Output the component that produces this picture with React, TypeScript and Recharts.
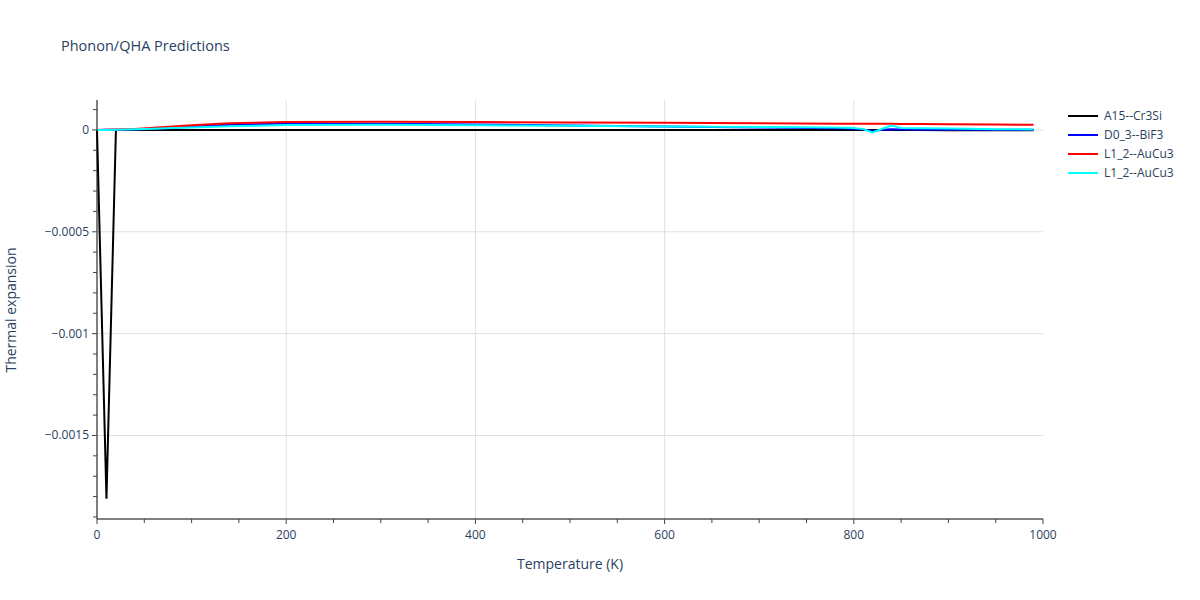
import { LineChart, Line, XAxis, YAxis, CartesianGrid } from "recharts";

const temps = [0, 10, 20, 40, 60, 80, 100, 140, 200, 300, 400, 500, 600, 700, 780, 800, 810, 820, 830, 840, 850, 870, 900, 950, 990];
const a15Cr3Si = [0, -0.00181, 0, 0, 0, 0, 0, 0, 0, 0, 0, 0, 0, 0, 0, 0, 0, 0, 0, 0, 0, 0, -0.000001, -0.000001, -0.000002];
const d03BiF3 = [0, 0.000001, 0.000001, 0.000002, 0.000006, 0.000011, 0.000016, 0.000025, 0.000031, 0.00003, 0.000027, 0.000022, 0.000017, 0.000012, 0.000008, 0.000006, 0.000002, -0.000006, 0.000001, 0.000003, 0.000002, 0.000002, 0.000001, 0.000001, 0.000001];
const l12AuCu3a = [0, 0.000001, 0.000002, 0.000005, 0.000011, 0.000017, 0.000023, 0.000033, 0.000039, 0.00004, 0.000039, 0.000037, 0.000035, 0.000033, 0.000031, 0.000031, 0.00003, 0.00003, 0.00003, 0.00003, 0.000029, 0.000029, 0.000028, 0.000027, 0.000025];
const l12AuCu3b = [0, 0, 0.000001, 0.000003, 0.000006, 0.000009, 0.000012, 0.000018, 0.000024, 0.000026, 0.000023, 0.00002, 0.000017, 0.000014, 0.000012, 0.00001, 0.000004, -0.000012, 0.000006, 0.000022, 0.00001, 0.000008, 0.000007, 0.000004, 0.000002];

const series = [
  { key: "a15", name: "A15--Cr3Si", color: "#000000", values: a15Cr3Si },
  { key: "d03", name: "D0_3--BiF3", color: "#0000ff", values: d03BiF3 },
  { key: "l12a", name: "L1_2--AuCu3", color: "#ff0000", values: l12AuCu3a },
  { key: "l12b", name: "L1_2--AuCu3", color: "#00ffff", values: l12AuCu3b },
];

// every 50 K tick mark, labels only on the 200 K ones
const xTicks = Array.from({ length: 21 }, (_, i) => i * 50);
// every 0.0001 tick mark, labels only on the 0.0005 ones
const yTicks = Array.from({ length: 21 }, (_, i) => Number((0.0001 - i * 0.0001).toFixed(4)));
const xGrid = [200, 400, 600, 800];
const yGrid = [-0.0015, -0.001, -0.0005, 0];

const data = temps.map((t, i) => {
  const row: Record<string, number> = { t };
  series.forEach((s) => { row[s.key] = s.values[i]; });
  return row;
});

const font = '"Open Sans", verdana, arial, sans-serif';
const ink = "#2a3f5f";
const fmtY = (v: number) => (v === 0 ? "0" : (v < 0 ? "\u2212" : "") + String(Math.abs(v)));
const isMajorX = (v: number) => v % 200 === 0;
const isMajorY = (v: number) => Math.abs(v / 0.0005 - Math.round(v / 0.0005)) < 1e-6;

const XTick = (p: any) => {
  const v = p.payload.value;
  const major = isMajorX(v);
  return (
    <g>
      <line x1={p.x} x2={p.x} y1={p.y} y2={p.y + (major ? 5 : 4)} stroke="#444" />
      {major && <text x={p.x} y={p.y + 20} textAnchor="middle" fontSize={12} fill={ink} fontFamily={font}>{v}</text>}
    </g>
  );
};

const YTick = (p: any) => {
  const v = p.payload.value;
  const major = isMajorY(v);
  return (
    <g>
      <line x1={p.x - (major ? 5 : 4)} x2={p.x} y1={p.y} y2={p.y} stroke="#444" />
      {major && <text x={p.x - 8} y={p.y + 4} textAnchor="end" fontSize={12} fill={ink} fontFamily={font}>{fmtY(v)}</text>}
    </g>
  );
};

export default function App() {
  return (
    <div style={{ position: "absolute", left: 0, top: 0, width: 1200, height: 600, background: "#fff", fontFamily: font }}>
      <div style={{ position: "absolute", left: 61, top: 36, fontSize: 14.5, color: ink }}>Phonon/QHA Predictions</div>
      <LineChart width={1200} height={600} data={data} margin={{ top: 100, right: 157, bottom: 51, left: 37 }}>
        <CartesianGrid stroke="#e1e1e1" verticalValues={xGrid} horizontalValues={yGrid} />
        <XAxis dataKey="t" type="number" domain={[0, 1000]} ticks={xTicks} interval={0} tickSize={0} tickMargin={0} height={30} axisLine={{ stroke: "#000", strokeWidth: 1 }} tickLine={false} tick={<XTick />} />
        <YAxis type="number" domain={[-0.00191, 0.000147]} ticks={yTicks} interval={0} tickSize={0} tickMargin={0} width={60} axisLine={{ stroke: "#000", strokeWidth: 1 }} tickLine={false} tick={<YTick />} allowDataOverflow />
        {series.map((s) => (
          <Line key={s.key} type="linear" dataKey={s.key} name={s.name} stroke={s.color} strokeWidth={2} dot={false} isAnimationActive={false} />
        ))}
      </LineChart>
      <div style={{ position: "absolute", left: 570, top: 563, transform: "translate(-50%, -50%)", fontSize: 14, color: ink, whiteSpace: "nowrap" }}>Temperature (K)</div>
      <div style={{ position: "absolute", left: 10, top: 310, transform: "translate(-50%, -50%) rotate(-90deg)", fontSize: 14, color: ink, whiteSpace: "nowrap" }}>Thermal expansion</div>
      <div style={{ position: "absolute", left: 1068, top: 106, fontSize: 12, color: ink }}>
        {series.map((s) => (
          <div key={s.key} style={{ display: "flex", alignItems: "center", height: 19 }}>
            <div style={{ width: 30, height: 2, background: s.color, marginRight: 6 }} />
            <span>{s.name}</span>
          </div>
        ))}
      </div>
    </div>
  );
}
